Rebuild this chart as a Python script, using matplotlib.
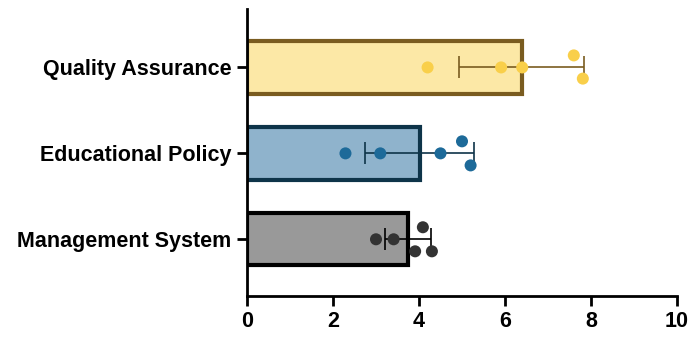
import numpy as np
import matplotlib
matplotlib.use("Agg")
import matplotlib.pyplot as plt

plt.rcParams['font.family'] = ['Liberation Sans', 'DejaVu Sans']

categories = ["Management System", "Educational Policy", "Quality Assurance"]

# individual observations per category
ms_points = [3.00, 3.41, 4.09, 3.91, 4.30]
ep_points = [2.29, 3.10, 4.50, 5.00, 5.20]
qa_points = [4.20, 5.91, 6.40, 7.60, 7.81]

# vertical jitter of each point within its bar
ms_jitter = [0.0, 0.0, 0.14, -0.14, -0.14]
ep_jitter = [0.0, 0.0, 0.0, 0.14, -0.14]
qa_jitter = [0.0, 0.0, 0.0, 0.14, -0.13]

fill_colors = ["#999999", "#8FB3CC", "#FCE8A6"]
edge_colors = ["#000000", "#0E3449", "#7A5C20"]
point_colors = ["#333333", "#1D6A99", "#F9CF4A"]

groups = [ms_points, ep_points, qa_points]
jitters = [ms_jitter, ep_jitter, qa_jitter]
means = [np.mean(g) for g in groups]
sds = [np.std(g, ddof=1) for g in groups]

fig = plt.figure(figsize=(6.92, 3.39), dpi=100)
ax = fig.add_axes([247 / 692, 1 - 296 / 339, 430 / 692, 287 / 339])

y = np.arange(len(categories))
ax.barh(y, means, height=0.61, color=fill_colors, edgecolor=edge_colors,
        linewidth=3.0, zorder=2)

for i in range(len(categories)):
    ax.errorbar(means[i], y[i], xerr=sds[i], fmt='none', ecolor=edge_colors[i],
                elinewidth=1.2, capsize=8, capthick=1.2, zorder=3)
    ax.scatter(groups[i], y[i] + np.array(jitters[i]), s=75, color=point_colors[i],
               edgecolors='none', zorder=4)

ax.set_xlim(0, 10)
ax.set_ylim(-0.66, 2.68)
ax.set_xticks([0, 2, 4, 6, 8, 10])
ax.set_yticks(y)
ax.set_yticklabels(categories)

for s in ['top', 'right']:
    ax.spines[s].set_visible(False)
for s in ['left', 'bottom']:
    ax.spines[s].set_linewidth(2.0)
    ax.spines[s].set_color('black')

ax.tick_params(axis='both', width=2.0, length=7, labelsize=15.5, pad=4)
for lab in ax.get_xticklabels() + ax.get_yticklabels():
    lab.set_fontweight('bold')

fig.savefig("out.png", dpi=100)
